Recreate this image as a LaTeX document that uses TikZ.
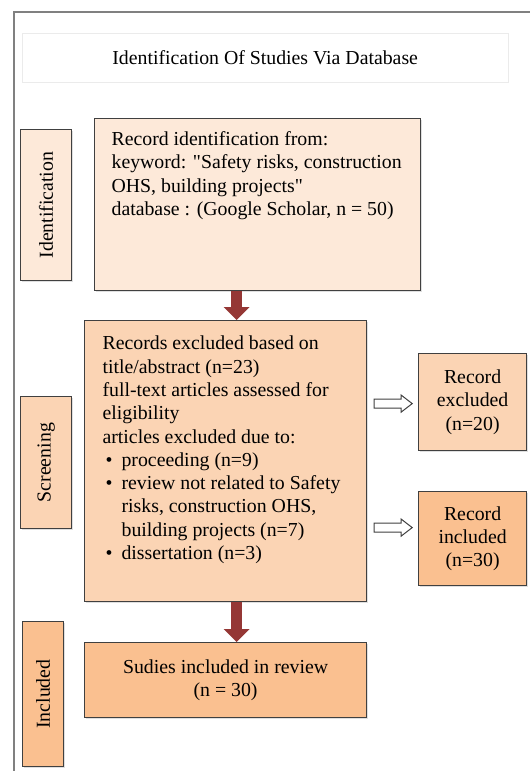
\documentclass[tikz,border=0pt]{standalone}
\usepackage{fontspec}
\setmainfont{Liberation Serif}
\usepackage{xcolor}
\usetikzlibrary{arrows.meta, calc, shadows}

\definecolor{peachA}{HTML}{FDE9D9}
\definecolor{peachB}{HTML}{FBD4B4}
\definecolor{peachC}{HTML}{FAC090}
\definecolor{arrowred}{HTML}{953735}
\definecolor{boxline}{HTML}{404040}
\newcommand{\bul}{\makebox[19pt][l]{\hspace{3pt}\textbullet}}

\begin{document}
\begin{tikzpicture}[
    x=1pt, y=-1pt,
    every node/.style={font=\fontsize{19.8}{23.3}\selectfont},
    stage/.style={draw=boxline, line width=1.2pt, inner sep=0pt, anchor=north west,
                  drop shadow={shadow xshift=1.2pt, shadow yshift=-1.2pt, opacity=.25}},
    stepbox/.style={draw=boxline, line width=1.2pt, anchor=north west,
                    drop shadow={shadow xshift=1.2pt, shadow yshift=-1.2pt, opacity=.25}},
    result/.style={stepbox, align=center, inner sep=0pt},
    redarr/.style={draw=arrowred, line width=11pt, -{Triangle[width=25pt, length=13pt]}},
    hollow/.style={draw=boxline, line width=1pt, fill=white},
    frame/.style={draw=black!50, line width=1.2pt}
]
\useasboundingbox (0,0) rectangle (530,771);
\draw[frame] (530,12) -- (14,12) -- (14,771);

% title
\node[draw=black!8, anchor=north west, minimum width=486, minimum height=49] (title) at (22,33)
    {Identification Of Studies Via Database};

% stage labels
\node[stage, fill=peachA, minimum width=51, minimum height=151] (idlab) at (20,129) {\rotatebox{90}{Identification}};
\node[stage, fill=peachB, minimum width=51, minimum height=132] (scrlab) at (20,396) {\rotatebox{90}{Screening}};
\node[stage, fill=peachC, minimum width=41, minimum height=145] (inclab) at (22,621) {\rotatebox{90}{Included}};

% main boxes
\node[stepbox, fill=peachA, inner xsep=17, inner ysep=13] (rec) at (94,118)
    {\parbox[c][146pt][t]{292pt}{Record identification from:\\
     keyword: \textquotedbl Safety risks, construction\\
     OHS, building projects\textquotedbl\\
     database : (Google Scholar, n = 50)}};
\node[stepbox, fill=peachB, inner xsep=18, inner ysep=15.5] (scr) at (84,320)
    {\parbox[c][250pt][t]{246pt}{\parskip=0pt Records excluded based on\\
     title/abstract (n=23)\\
     full-text articles assessed for\\
     eligibility\\
     articles excluded due to:\par
     \bul proceeding (n=9)\par
     \hangindent=19pt\hangafter=1 \bul review not related to Safety\\
     risks, construction OHS,\\
     building projects (n=7)\par
     \bul dissertation (n=3)}};
\node[result, fill=peachC, minimum width=282, minimum height=75] (sud) at (84,642)
    {Sudies included in review\\(n = 30)};

% side results
\node[result, fill=peachB, minimum width=108, minimum height=97] (exc) at (418,353)
    {Record\\excluded\\(n=20)};
\node[result, fill=peachC, minimum width=108, minimum height=94] (inc) at (418,491)
    {Record\\included\\(n=30)};

% arrows
\draw[redarr] ([xshift=11pt]scr.north |- rec.south) -- ([xshift=11pt]scr.north);
\draw[redarr] ([xshift=11pt]scr.south) -- ([xshift=11pt]sud.north);
\foreach \t/\dy in {exc/1.5, inc/-11}
  \draw[hollow] ([shift={(7,\dy-4.5)}]scr.east |- \t.west) -- ++(27,0) -- ++(0,-4)
    -- ++(11,8.5) -- ++(-11,8.5) -- ++(0,-4) -- ++(-27,0) -- cycle;
\end{tikzpicture}
\end{document}
